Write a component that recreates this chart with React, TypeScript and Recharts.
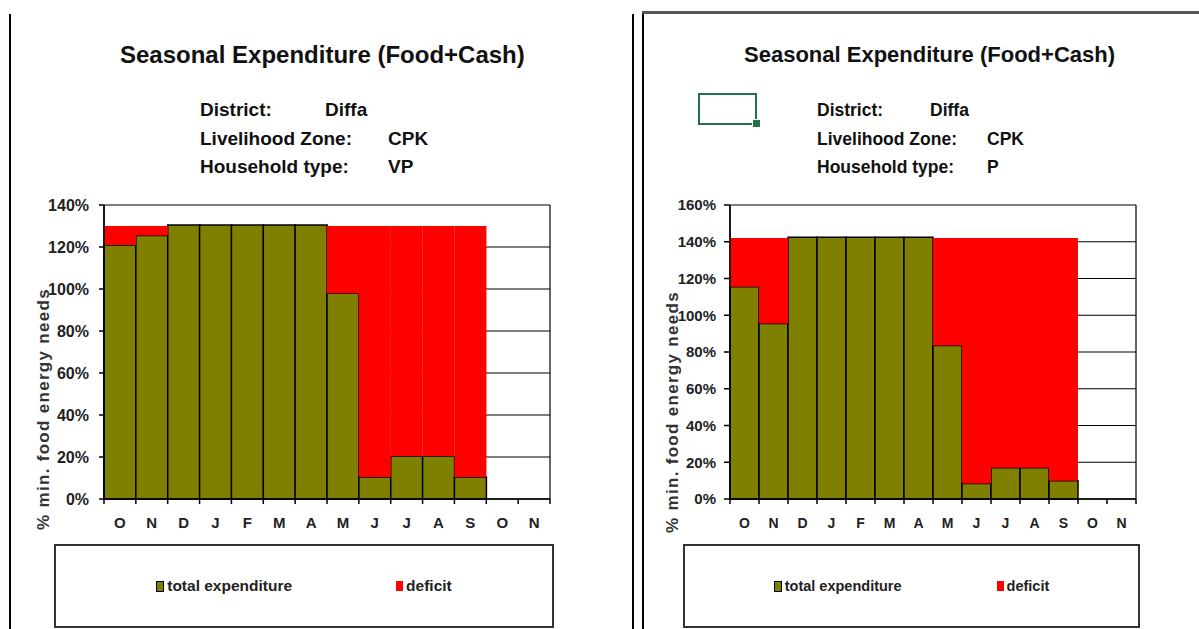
import React from 'react';
import { BarChart, Bar, XAxis, YAxis, CartesianGrid, Legend } from 'recharts';

const months = ['O', 'N', 'D', 'J', 'F', 'M', 'A', 'M', 'J', 'J', 'A', 'S', 'O', 'N'];

// very poor households (left)
const vpExpenditure = [121, 125.5, 130.5, 130.5, 130.5, 130.5, 130.5, 98, 10.5, 20.5, 20.5, 10.5, 0, 0];
const vpDeficit = [9, 4.5, 0, 0, 0, 0, 0, 32, 119.5, 109.5, 109.5, 119.5, 0, 0];
const vpTicks = [0, 20, 40, 60, 80, 100, 120, 140];

// poor households (right)
const pExpenditure = [115.5, 95.5, 142.5, 142.5, 142.5, 142.5, 142.5, 83.5, 8.5, 17, 17, 10, 0, 0];
const pDeficit = [26.5, 46.5, 0, 0, 0, 0, 0, 58.5, 133.5, 125, 125, 132, 0, 0];
const pTicks = [0, 20, 40, 60, 80, 100, 120, 140, 160];

const FONT = '"Liberation Sans", Arial, sans-serif';
const OLIVE = '#808000';
const RED = '#FF0000';

const buildRows = (exp: number[], def: number[]) =>
  months.map((m, i) => ({ month: m, expenditure: exp[i], deficit: def[i] }));

const MonthTick = (props: any) => {
  const { x, y, payload, index, visibleTicksCount, fontSize } = props;
  const half = payload.offset ?? (props.width && visibleTicksCount ? props.width / visibleTicksCount / 2 : 0);
  return (
    <g>
      <line x1={x - half} x2={x - half} y1={y} y2={y + 5} stroke="#000" strokeWidth={1.5} />
      {index === visibleTicksCount - 1 && (
        <line x1={x + half} x2={x + half} y1={y} y2={y + 5} stroke="#000" strokeWidth={1.5} />
      )}
      <text x={x} y={y + 29} textAnchor="middle" fontFamily={FONT} fontWeight="bold" fontSize={fontSize} fill="#222">
        {payload.value}
      </text>
    </g>
  );
};

const LegendBox = ({ textSize, gap }: { textSize: number; gap: number }) => (
  <div
    style={{
      width: '100%',
      height: '100%',
      boxSizing: 'border-box',
      border: '2px solid #333',
      display: 'flex',
      alignItems: 'center',
      justifyContent: 'center',
      fontFamily: FONT,
      fontWeight: 'bold',
      fontSize: textSize,
      color: '#222',
    }}
  >
    <span style={{ display: 'flex', alignItems: 'center' }}>
      <span style={{ width: 6, height: 9, background: OLIVE, border: '1px solid #000', marginRight: 3 }} />
      total expenditure
    </span>
    <span style={{ display: 'flex', alignItems: 'center', marginLeft: gap }}>
      <span style={{ width: 7, height: 10, background: RED, marginRight: 3 }} />
      deficit
    </span>
  </div>
);

interface PanelProps {
  left: number;
  width: number;
  data: { month: string; expenditure: number; deficit: number }[];
  ticks: number[];
  yMax: number;
  axisWidth: number;
  rightMargin: number;
  tickSize: number;
  tickMargin: number;
  labelSize: number;
  legend: { left: number; width: number; textSize: number; gap: number };
}

const Panel = ({ left, width, data, ticks, yMax, axisWidth, rightMargin, tickSize, tickMargin, labelSize, legend }: PanelProps) => (
  <div style={{ position: 'absolute', left, top: 0 }}>
    <BarChart
      width={width}
      height={629}
      data={data}
      margin={{ top: 205, right: rightMargin, bottom: 100, left: 0 }}
      barCategoryGap={0}
      barGap={0}
    >
      <CartesianGrid
        stroke="#000"
        strokeWidth={1.2}
        verticalCoordinatesGenerator={({ offset }: any) => [offset.left, offset.left + offset.width]}
      />
      <XAxis
        dataKey="month"
        height={30}
        interval={0}
        tickLine={false}
        tickSize={0}
        tickMargin={0}
        axisLine={{ stroke: '#000', strokeWidth: 1.5 }}
        tick={<MonthTick fontSize={labelSize} />}
      />
      <YAxis
        width={axisWidth}
        domain={[0, yMax]}
        ticks={ticks}
        interval={0}
        tickFormatter={(v: number) => `${v}%`}
        tickSize={tickSize}
        tickMargin={tickMargin}
        tickLine={{ stroke: '#000', strokeWidth: 1.5 }}
        axisLine={{ stroke: '#000', strokeWidth: 1.5 }}
        tick={{ fontFamily: FONT, fontWeight: 'bold', fontSize: labelSize + 1, fill: '#222' }}
      />
      <Legend
        verticalAlign="middle"
        wrapperStyle={{ position: 'absolute', left: legend.left, top: 544, width: legend.width, height: 84 }}
        content={() => <LegendBox textSize={legend.textSize} gap={legend.gap} />}
      />
      <Bar dataKey="expenditure" name="total expenditure" stackId="s" fill={OLIVE} stroke="#000" strokeWidth={1.5} isAnimationActive={false} />
      <Bar dataKey="deficit" name="deficit" stackId="s" fill={RED} isAnimationActive={false} />
    </BarChart>
  </div>
);

const Txt = ({ x, y, size, children }: { x: number; y: number; size: number; children: React.ReactNode }) => (
  <div
    style={{
      position: 'absolute',
      left: x,
      top: y - size * 0.6,
      lineHeight: `${size * 1.2}px`,
      fontSize: size,
      fontFamily: FONT,
      fontWeight: 'bold',
      color: '#111',
      whiteSpace: 'nowrap',
    }}
  >
    {children}
  </div>
);

const YLabel = ({ x, y }: { x: number; y: number }) => (
  <div
    style={{
      position: 'absolute',
      left: x,
      top: y,
      transform: 'translate(-50%, -50%) rotate(-90deg)',
      fontFamily: FONT,
      fontWeight: 'bold',
      fontSize: 17,
      letterSpacing: 1.3,
      color: '#333',
      whiteSpace: 'nowrap',
    }}
  >
    % min. food energy needs
  </div>
);

export default function App() {
  const vpRows = buildRows(vpExpenditure, vpDeficit);
  const pRows = buildRows(pExpenditure, pDeficit);

  return (
    <div style={{ position: 'absolute', left: 0, top: 0, width: 1199, height: 629, background: '#fff', overflow: 'hidden' }}>
      {/* sheet frame lines */}
      <div style={{ position: 'absolute', left: 9, top: 14, width: 2, height: 615, background: '#000' }} />
      <div style={{ position: 'absolute', left: 632, top: 14, width: 2, height: 615, background: '#000' }} />
      <div style={{ position: 'absolute', left: 642, top: 11, width: 2, height: 618, background: '#000' }} />
      <div style={{ position: 'absolute', left: 642, top: 11, width: 557, height: 3, background: '#555' }} />

      <Panel
        left={0}
        width={600}
        data={vpRows}
        ticks={vpTicks}
        yMax={140}
        axisWidth={104}
        rightMargin={50}
        tickSize={5}
        tickMargin={10}
        labelSize={15}
        legend={{ left: 54, width: 500, textSize: 15.5, gap: 104 }}
      />
      <Panel
        left={600}
        width={599}
        data={pRows}
        ticks={pTicks}
        yMax={160}
        axisWidth={130}
        rightMargin={63}
        tickSize={6}
        tickMargin={8}
        labelSize={14}
        legend={{ left: 83, width: 457, textSize: 14.5, gap: 95 }}
      />

      <YLabel x={44} y={409} />
      <YLabel x={673} y={412} />

      {/* left header */}
      <Txt x={120} y={55} size={24}>Seasonal Expenditure (Food+Cash)</Txt>
      <Txt x={200} y={110} size={19}>District:</Txt>
      <Txt x={325} y={110} size={19}>Diffa</Txt>
      <Txt x={200} y={139} size={19}>Livelihood Zone:</Txt>
      <Txt x={388} y={139} size={19}>CPK</Txt>
      <Txt x={200} y={167} size={19}>Household type:</Txt>
      <Txt x={388} y={167} size={19}>VP</Txt>

      {/* right header */}
      <Txt x={744} y={55} size={22}>Seasonal Expenditure (Food+Cash)</Txt>
      <Txt x={817} y={110} size={17.5}>District:</Txt>
      <Txt x={930} y={110} size={17.5}>Diffa</Txt>
      <Txt x={817} y={139} size={17.5}>Livelihood Zone:</Txt>
      <Txt x={987} y={139} size={17.5}>CPK</Txt>
      <Txt x={817} y={167} size={17.5}>Household type:</Txt>
      <Txt x={987} y={167} size={17.5}>P</Txt>

      {/* selected cell marker */}
      <div style={{ position: 'absolute', left: 698, top: 93, width: 55, height: 28, border: '2px solid #217346' }} />
      <div style={{ position: 'absolute', left: 752, top: 119, width: 7, height: 7, background: '#217346', border: '1px solid #fff' }} />
    </div>
  );
}
